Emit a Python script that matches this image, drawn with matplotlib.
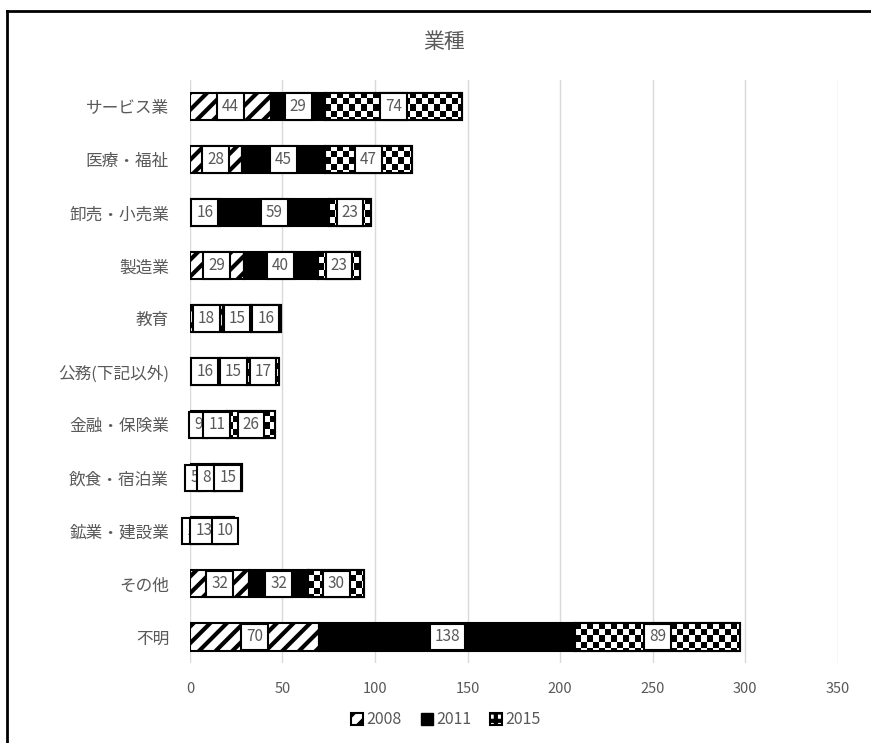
import numpy as np
import matplotlib
matplotlib.use("Agg")
import matplotlib.pyplot as plt
from matplotlib.patches import Patch
from matplotlib.lines import Line2D

plt.rcParams['font.family'] = ['Noto Sans CJK JP', 'DejaVu Sans']
plt.rcParams['hatch.linewidth'] = 3.0

categories = ["サービス業", "医療・福祉", "卸売・小売業", "製造業", "教育", "公務(下記以外)",
              "金融・保険業", "飲食・宿泊業", "鉱業・建設業", "その他", "不明"]
v2008 = [44, 28, 16, 29, 18, 16, 9, 5, 1, 32, 70]
v2011 = [29, 45, 59, 40, 15, 15, 11, 8, 13, 32, 138]
v2015 = [74, 47, 23, 23, 16, 17, 26, 15, 10, 30, 89]
series_names = ["2008", "2011", "2015"]
xticks = [0, 50, 100, 150, 200, 250, 300, 350]

gray = "#595959"
fig = plt.figure(figsize=(8.71, 7.43), dpi=100)
ax = fig.add_axes([0.218, 0.107, 0.744, 0.785])

y = np.arange(len(categories))
h = 0.51
lw = 1.5
a = np.array(v2008); b = np.array(v2011); c = np.array(v2015)
b1 = ax.barh(y, a, height=h, color="white", edgecolor="black", hatch="//", linewidth=lw, zorder=2)
b2 = ax.barh(y, b, left=a, height=h, color="black", edgecolor="black", linewidth=lw, zorder=2)
b3 = ax.barh(y, c, left=a + b, height=h, color="white", edgecolor="black", linewidth=lw, zorder=2)

ax.set_xlim(0, 350)
ax.set_ylim(len(categories) - 0.5, -0.5)

# checkerboard fill for 2015 bars
px_per_x = 0.744 * 871 / 350
px_per_y = 0.785 * 743 / len(categories)
cell = 6.0
for p in b3.patches:
    x0, y0 = p.get_x(), p.get_y()
    w, hh = p.get_width(), p.get_height()
    nx = max(1, int(np.ceil(w * px_per_x / cell)))
    ny = max(1, int(np.ceil(hh * px_per_y / cell)))
    img = (np.add.outer(np.arange(ny), np.arange(nx)) % 2).astype(float)
    im = ax.imshow(img, cmap="gray", vmin=0, vmax=1, interpolation="nearest",
                   extent=[x0, x0 + nx * cell / px_per_x, y0 + ny * cell / px_per_y, y0],
                   aspect="auto", zorder=2.5)
    im.set_clip_path(p)
    ax.add_patch(plt.Rectangle((x0, y0), w, hh, fill=False, edgecolor="black", linewidth=lw, zorder=2.6))
ax.set_xlim(0, 350)
ax.set_ylim(len(categories) - 0.5, -0.5)

bbox = dict(boxstyle="square,pad=0.32", facecolor="white", edgecolor="black", linewidth=1.5)
for cont in (b1, b2, b3):
    for t in ax.bar_label(cont, label_type="center", fontsize=11, color=gray, bbox=bbox):
        t.set_zorder(5)

ax.set_yticks(y)
ax.set_yticklabels(categories, fontsize=12, color=gray)
ax.set_xticks(xticks)
ax.set_xticklabels([str(v) for v in xticks], fontsize=10.5, color=gray)
ax.tick_params(axis="both", length=0)
ax.tick_params(axis="y", pad=15)
ax.tick_params(axis="x", pad=13)
for s in ax.spines.values():
    s.set_visible(False)
ax.grid(axis="x", color="#d9d9d9", linewidth=1, zorder=0)
ax.set_axisbelow(True)

fig.text(0.51, 1 - 42 / 743, "業種", ha="center", va="center", fontsize=15, color=gray)

handles = [Patch(facecolor="white", edgecolor="black", hatch="//", linewidth=1.5),
           Patch(facecolor="black", edgecolor="black"),
           Patch(facecolor="white", edgecolor="black", hatch="++", linewidth=1.5)]
fig.legend(handles, series_names, loc="center", bbox_to_anchor=(0.512, 1 - 720 / 743), ncol=3,
           frameon=False, fontsize=11.5, handlelength=0.75, handleheight=0.75, handletextpad=0.2,
           columnspacing=1.2, labelcolor=gray)

fig.add_artist(Line2D([7 / 871, 7 / 871], [0, 1 - 11 / 743], color="black", linewidth=2, transform=fig.transFigure))
fig.add_artist(Line2D([7 / 871, 1], [1 - 11 / 743, 1 - 11 / 743], color="black", linewidth=2, transform=fig.transFigure))

fig.savefig("out.png", dpi=100)
